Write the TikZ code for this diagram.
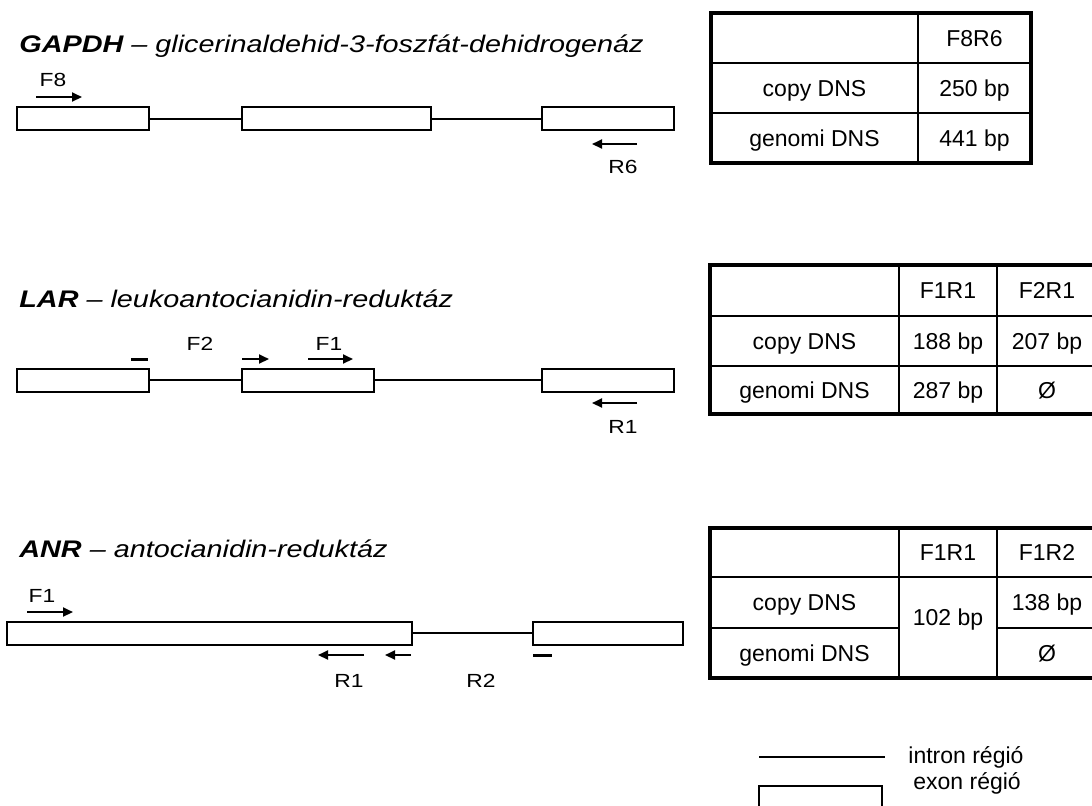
\documentclass[tikz,border=0pt]{standalone}
\usepackage{fontspec}
\setmainfont{Liberation Sans}
\newfontfamily\widefont{Liberation Sans}[FakeStretch=1.2]
\usetikzlibrary{arrows.meta}

\tikzset{
  exonbox/.style={draw, line width=1pt, inner sep=0pt, minimum height=11.5pt},
  intron/.style={line width=1pt},
  primer/.style={line width=1pt, -{Triangle[length=5pt,width=4.5pt]}},
  blocked/.style={line width=1.5pt},
  gene/.style={anchor=base west, inner sep=0pt, font=\widefont\fontsize{12}{14}\selectfont\itshape},
  plabel/.style={anchor=base, inner sep=0pt, font=\widefont\fontsize{9.5}{11}\selectfont},
  cell/.style={inner sep=0pt, font=\fontsize{11.5}{13}\selectfont, text height=8.2pt, text depth=0pt},
  legtext/.style={anchor=west, inner sep=0pt, font=\fontsize{11.5}{13}\selectfont},
  tabframe/.style={line width=1.6pt},
  tabrule/.style={line width=0.6pt}
}

% exon box: name, left, right, y of centre (pixel units)
\newcommand{\exon}[4]{\node[exonbox, minimum width={(#3-#2)*0.5}] (#1) at ({(#2+#3)/2},#4) {};}

\begin{document}
\begin{tikzpicture}[x=0.5pt,y=-0.5pt]
        \useasboundingbox (0,0) rectangle (1092,805);
        % GAPDH
        \node[gene] (gapdh) at (19,52) {\textbf{GAPDH} – glicerinaldehid-3-foszfát-dehidrogenáz};
        \exon{g1}{17}{149}{118.5}
        \exon{g2}{242}{431}{118.5}
        \exon{g3}{542}{674}{118.5}
        \draw[intron] (g1.east) -- (g2.west);
        \draw[intron] (g2.east) -- (g3.west);
        \draw[primer] (36,97) -- (82,97);
        \node[plabel] (gF8) at (53,86) {F8};
        \draw[primer] (637,144) -- (592,144);
        \node[plabel] (gR6) at (623,173) {R6};
        % GAPDH table
        \draw[tabframe] (711,13) rectangle (1031,163);
        \draw[tabrule] (711,63) -- (1031,63) (711,113) -- (1031,113) (918,13) -- (918,163);
        \node[cell] (gh) at (974.5,38) {F8R6};
        \node[cell] (gc) at (814.5,88) {copy DNS};
        \node[cell] (gg) at (814.5,138) {genomi DNS};
        \node[cell] (gc1) at (974.5,88) {250 bp};
        \node[cell] (gg1) at (974.5,138) {441 bp};

        % LAR
        \node[gene] (lar) at (19,307) {\textbf{LAR} – leukoantocianidin-reduktáz};
        \exon{l1}{17}{149}{380}
        \exon{l2}{242}{374}{380}
        \exon{l3}{542}{674}{380}
        \draw[intron] (l1.east) -- (l2.west);
        \draw[intron] (l2.east) -- (l3.west);
        \draw[blocked] (131,359) -- (148,359);
        \node[plabel] (lF2) at (200,350) {F2};
        \draw[primer] (242,359) -- (269,359);
        \node[plabel] (lF1) at (329,350) {F1};
        \draw[primer] (308,359) -- (353,359);
        \draw[primer] (637,403) -- (592,403);
        \node[plabel] (lR1) at (623,433) {R1};
        % LAR table
        \draw[tabframe] (710,265) rectangle (1097,414);
        \draw[tabrule] (710,316) -- (1097,316) (710,366) -- (1097,366)
                       (899,265) -- (899,414) (997,265) -- (997,414);
        \node[cell] (lh1) at (948,290.5) {F1R1};
        \node[cell] (lh2) at (1047,290.5) {F2R1};
        \node[cell] (lc) at (804.5,341) {copy DNS};
        \node[cell] (lg) at (804.5,390) {genomi DNS};
        \node[cell] (lc1) at (948,341) {188 bp};
        \node[cell] (lc2) at (1047,341) {207 bp};
        \node[cell] (lg1) at (948,390) {287 bp};
        \node[cell] (lg2) at (1047,390) {Ø};

        % ANR
        \node[gene] (anr) at (19,557) {\textbf{ANR} – antocianidin-reduktáz};
        \exon{a1}{7}{412}{633}
        \exon{a2}{533}{683}{633}
        \draw[intron] (a1.east) -- (a2.west);
        \node[plabel] (aF1) at (42,602) {F1};
        \draw[primer] (27,612) -- (73,612);
        \draw[primer] (364,655) -- (318,655);
        \draw[primer] (411,655) -- (385,655);
        \draw[blocked] (533,655) -- (552,655);
        \node[plabel] (aR1) at (349,687) {R1};
        \node[plabel] (aR2) at (481,687) {R2};
        % ANR table
        \draw[tabframe] (710,528) rectangle (1097,678);
        \draw[tabrule] (710,577) -- (1097,577) (710,628) -- (899,628) (997,628) -- (1097,628)
                       (899,528) -- (899,678) (997,528) -- (997,678);
        \node[cell] (ah1) at (948,552.5) {F1R1};
        \node[cell] (ah2) at (1047,552.5) {F1R2};
        \node[cell] (ac) at (804.5,602.5) {copy DNS};
        \node[cell] (ag) at (804.5,653) {genomi DNS};
        \node[cell] (a12) at (948,617) {102 bp};
        \node[cell] (ac2) at (1047,602.5) {138 bp};
        \node[cell] (ag2) at (1047,653) {Ø};

        % legend
        \coordinate (li1) at (759,757);
        \coordinate (li2) at (885,757);
        \draw[intron] (li1) -- (li2);
        \node[legtext] (ltxt) at (908,757) {intron régió};
        \exon{lex}{759}{882}{797}
        \node[legtext] (lextxt) at (913,783) {exon régió};
\end{tikzpicture}
\end{document}
